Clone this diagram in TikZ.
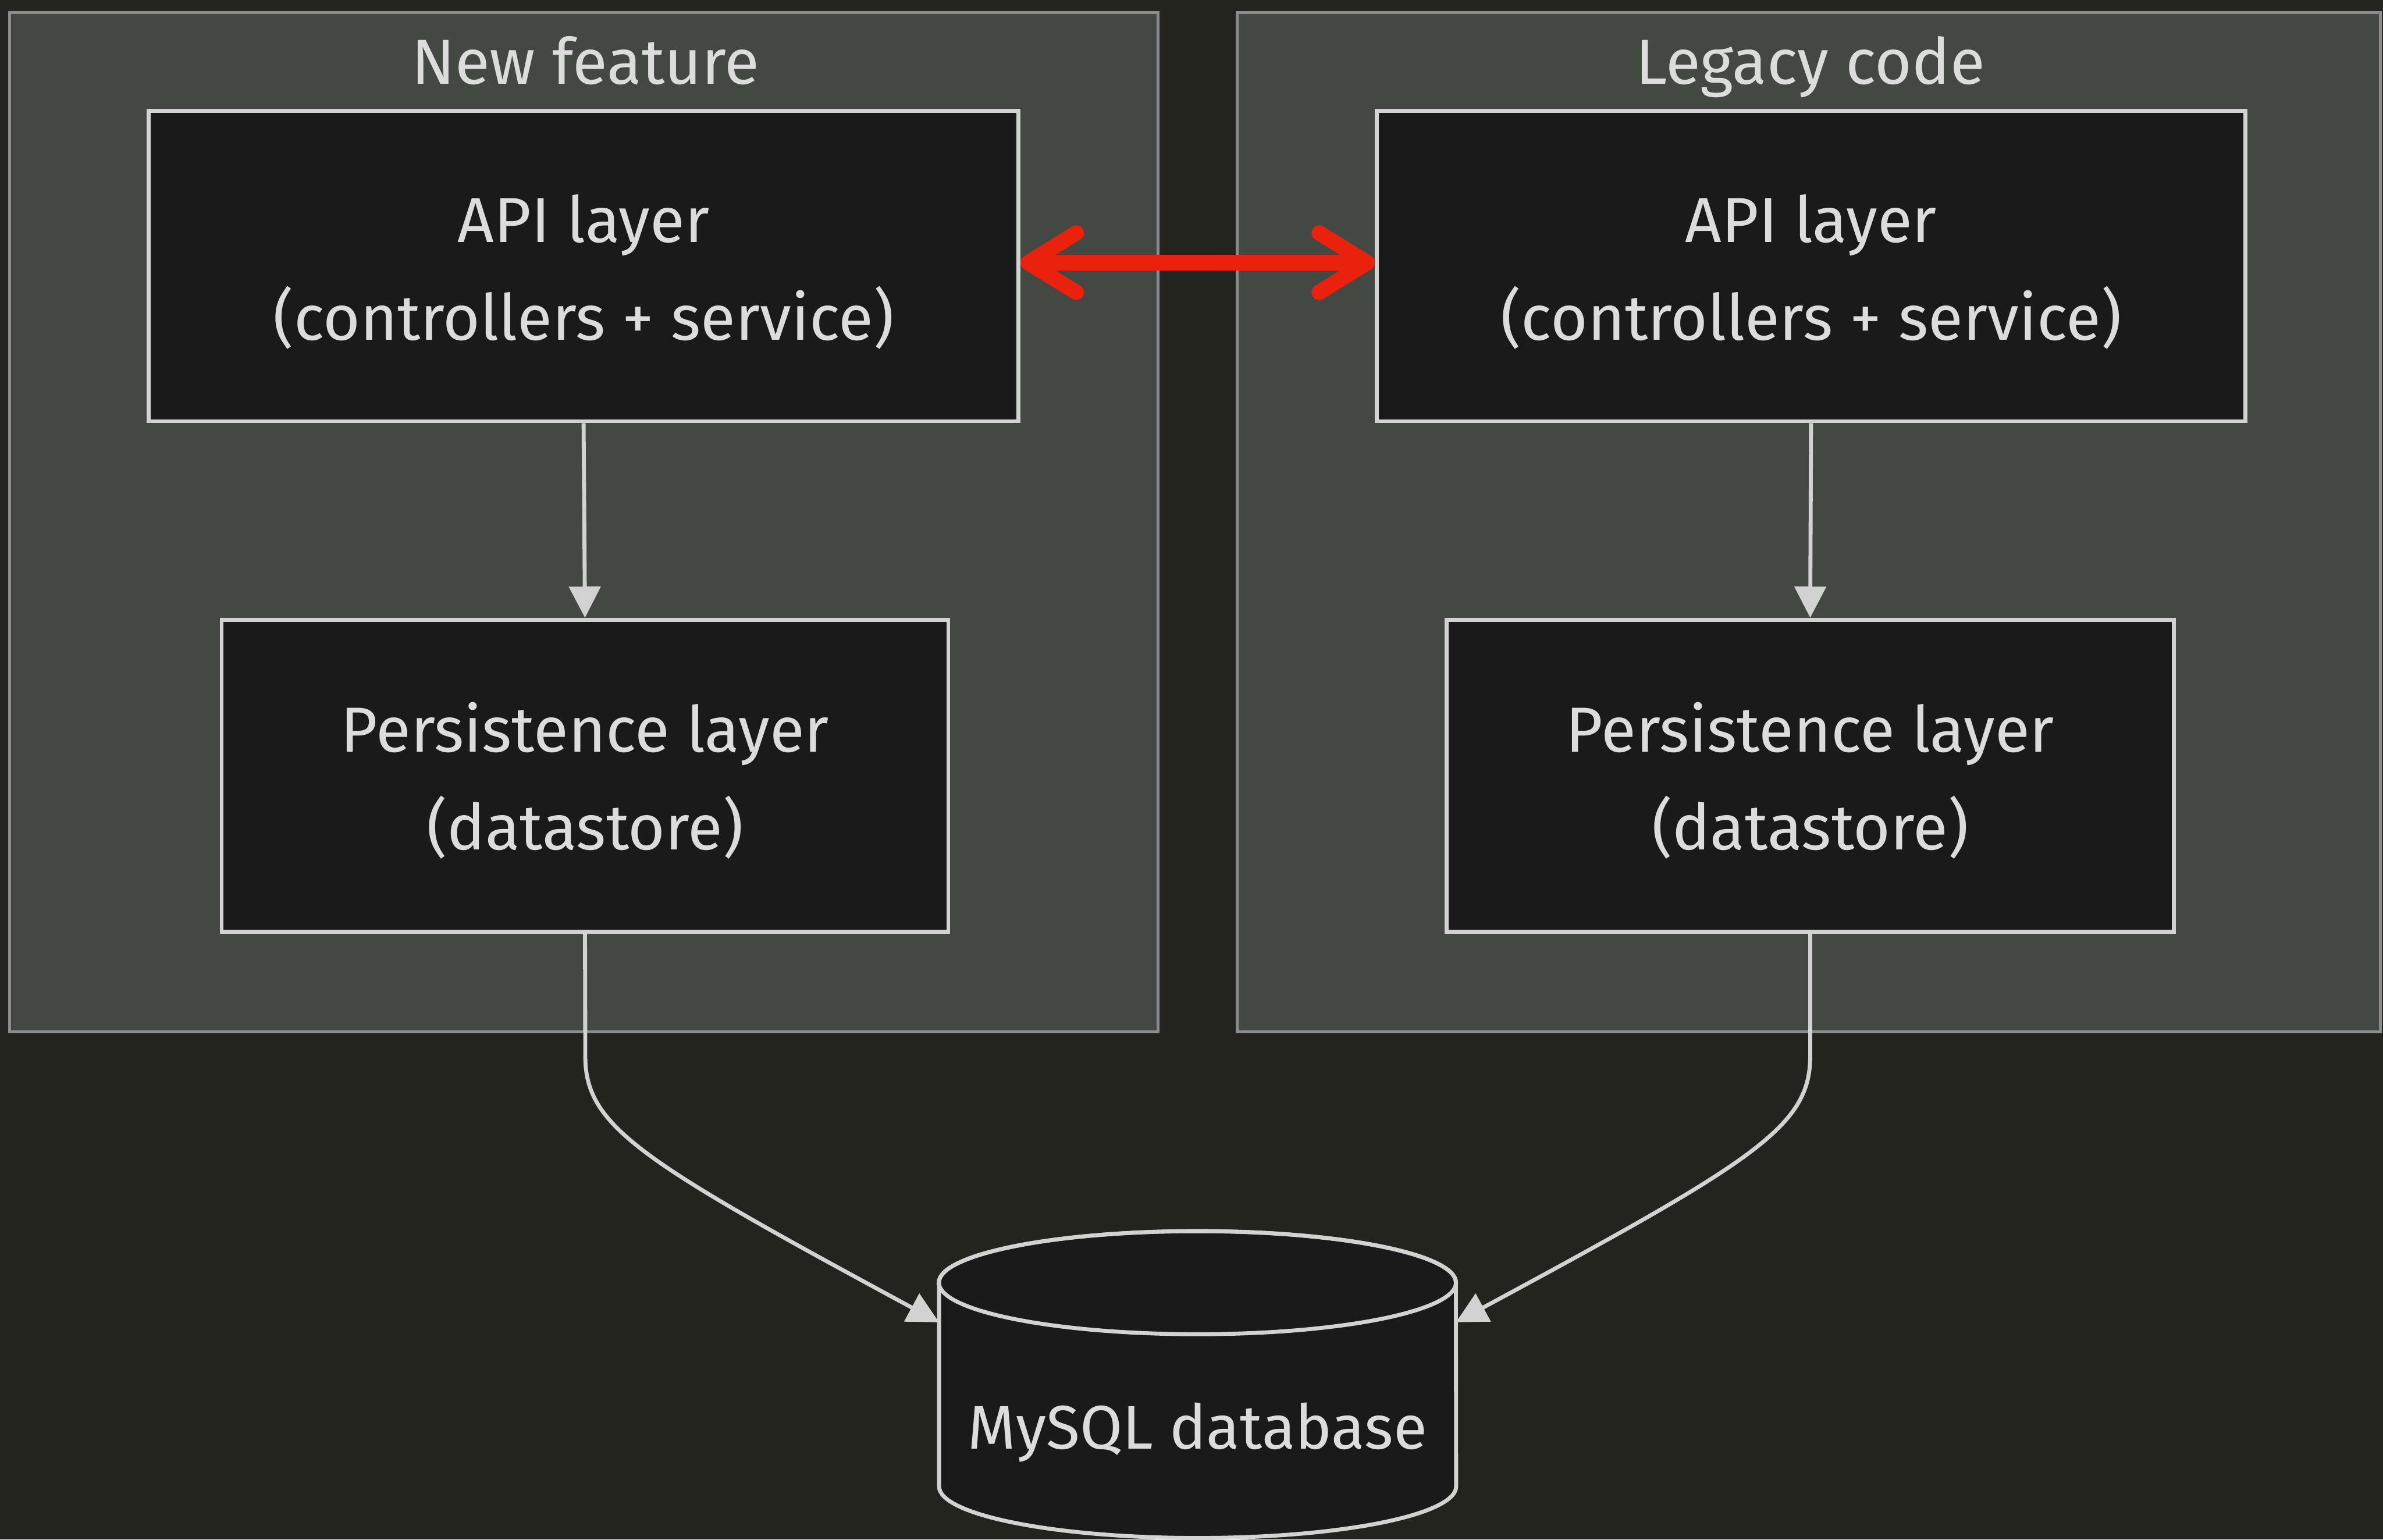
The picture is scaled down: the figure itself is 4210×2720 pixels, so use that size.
\documentclass[tikz,border=0pt]{standalone}
\usepackage{fontspec}
\setmainfont{Fira Sans}
\usetikzlibrary{arrows.meta}
\definecolor{bgc}{HTML}{24241E}
\definecolor{clfill}{HTML}{434942}
\definecolor{clborder}{HTML}{8C8C8C}
\definecolor{nfill}{HTML}{1A1A1A}
\definecolor{nborder}{HTML}{D2D2D2}
\definecolor{txt}{HTML}{DCDCDC}
\definecolor{redc}{HTML}{EA210C}
\newcommand{\firstln}{\rule{0pt}{30pt}}
\begin{document}
\begin{tikzpicture}[x=0.01cm,y=-0.01cm,
  box/.style={draw=nborder, fill=nfill, line width=2pt, text=txt, align=center,
    font=\fontsize{32}{49}\selectfont, inner sep=0pt},
  cluster/.style={draw=clborder, fill=clfill, line width=1.4pt},
  title/.style={text=txt, font=\fontsize{32}{48}\selectfont, inner sep=0pt, anchor=base},
  conn/.style={draw=nborder, line width=2pt, -{Triangle[length=0.55cm,width=0.55cm]}},
  redarrow/.style={draw=redc, line width=7.7pt,
    {Straight Barb[length=0.85cm,width=1.05cm,round]}-{Straight Barb[length=0.85cm,width=1.05cm,round]}}
]
\useasboundingbox (0,0) rectangle (4210,2720);
\fill[bgc] (0,0) rectangle (4210,2720);

% clusters
\path[cluster] (17,22) rectangle (2046,1823);
\path[cluster] (2186,22) rectangle (4205,1823);
\node[title] (tL) at (1034,148) {New feature};
\node[title] (tR) at (3198,148) {Legacy code};

% nodes
\node[box, minimum width=15.36cm, minimum height=5.48cm] (apiL) at (1031,470) {\firstln API layer\\(controllers + service)};
\node[box, minimum width=15.33cm, minimum height=5.48cm] (apiR) at (3199.5,470) {\firstln API layer\\(controllers + service)};
\node[box, minimum width=12.83cm, minimum height=5.51cm] (perL) at (1033.5,1370.5) {\firstln Persistence layer\\(datastore)};
\node[box, minimum width=12.84cm, minimum height=5.51cm] (perR) at (3198,1370.5) {\firstln Persistence layer\\(datastore)};

% database cylinder
\path[fill=nfill, draw=nborder, line width=2pt]
  (1659,2266) -- (1659,2626) arc[start angle=180, end angle=360, x radius=4.565cm, y radius=0.91cm]
  -- (2572,2266) arc[start angle=0, end angle=180, x radius=4.565cm, y radius=0.91cm] -- cycle;
\draw[draw=nborder, line width=2pt] (2115.5,2266) ellipse [x radius=4.565cm, y radius=0.91cm];
\node[inner sep=0pt, minimum width=9.13cm, minimum height=5.42cm] (db) at (2115.5,2446) {};
\node[title, font=\fontsize{31}{48}\selectfont] (dbtext) at (2115.5,2560) {MySQL database};
\coordinate (dbinL) at (1659,2336);
\coordinate (dbinR) at (2572,2336);
\coordinate (bendL) at (1034,1866);
\coordinate (bendR) at (3198,1866);

% connectors
\draw[conn] (apiL.south) -- (perL.north);
\draw[conn] (apiR.south) -- (perR.north);
\draw[conn] (perL.south) -- (bendL) .. controls (1034,1990) and (1130,2050) .. (dbinL);
\draw[conn] (perR.south) -- (bendR) .. controls (3198,1990) and (3102,2050) .. (dbinR);
\draw[redarrow] ([yshift=0.06cm]apiL.east) -- ([yshift=0.06cm]apiR.west);
\end{tikzpicture}
\end{document}
